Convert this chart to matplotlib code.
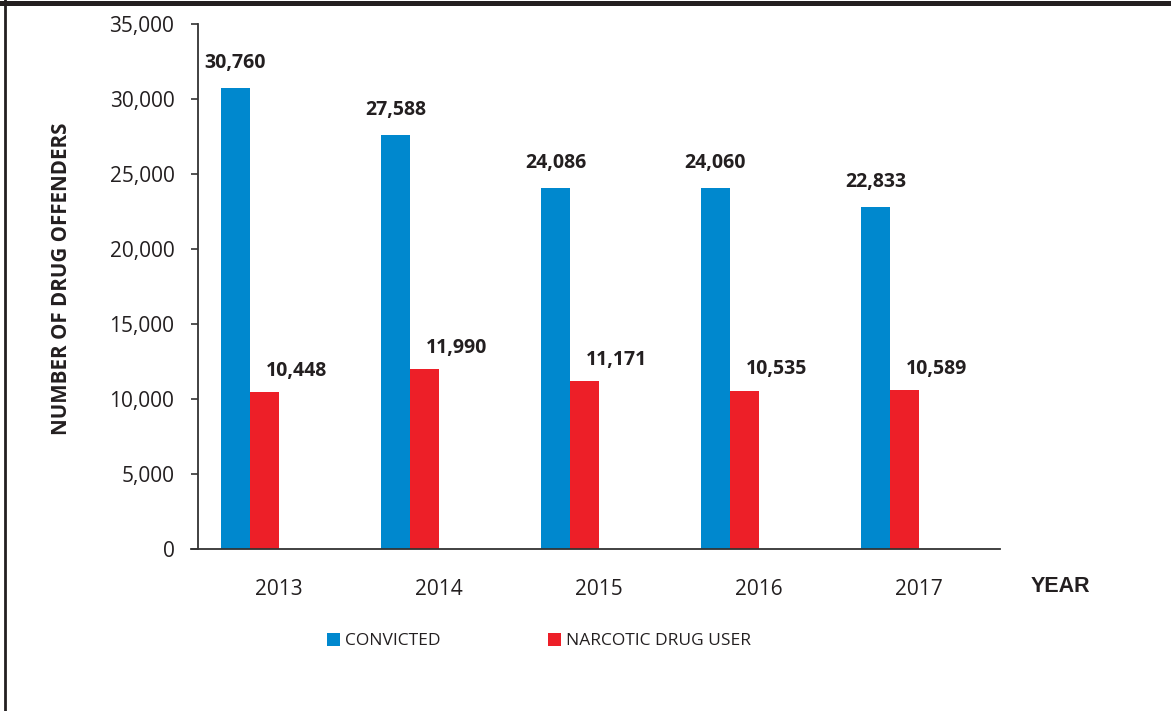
import matplotlib
matplotlib.use('Agg')
import matplotlib.pyplot as plt
from matplotlib.patches import Patch
from matplotlib.lines import Line2D
import numpy as np

years = ['2013', '2014', '2015', '2016', '2017']
convicted = [30760, 27588, 24086, 24060, 22833]
drug_users = [10448, 11990, 11171, 10535, 10589]
series_names = ['CONVICTED', 'NARCOTIC DRUG USER']
yticks = [0, 5000, 10000, 15000, 20000, 25000, 30000, 35000]

blue = '#0088ce'
red = '#ed1f28'
txt = '#231f20'

plt.rcParams['font.family'] = ['Open Sans', 'DejaVu Sans']

fig = plt.figure(figsize=(11.71, 7.11), dpi=100)
ax = fig.add_axes([191/1171, 162/711, (1000-191)/1171, 525/711])

x = np.arange(len(years))
w = 29/160
ax.bar(x - w/2, convicted, width=w, color=blue)
ax.bar(x + w/2, drug_users, width=w, color=red)

for xi, v in zip(x, convicted):
    ax.annotate('{:,}'.format(v), (xi - w/2, v), xytext=(0, 18),
                textcoords='offset points', ha='center', va='center',
                fontsize=14, fontweight='bold', color=txt)
for xi, v in zip(x, drug_users):
    ax.annotate('{:,}'.format(v), (xi + w/2, v), xytext=(23, 15.5),
                textcoords='offset points', ha='center', va='center',
                fontsize=14, fontweight='bold', color=txt)

ax.set_xlim(-0.369, 4.6875)
ax.set_ylim(0, 35000)
ax.set_yticks(yticks)
ax.set_yticklabels(['{:,}'.format(t) for t in yticks])
ax.set_xticks(x + w)
ax.set_xticklabels(years)

ax.spines['top'].set_visible(False)
ax.spines['right'].set_visible(False)
ax.spines['left'].set_position(('data', -0.325))
for s in ['left', 'bottom']:
    ax.spines[s].set_color('#333333')
    ax.spines[s].set_linewidth(1.3)
ax.tick_params(axis='y', direction='out', length=5, width=1.2, color='#333333',
               pad=12, labelsize=15, labelcolor=txt)
ax.tick_params(axis='x', length=0, pad=21.5, labelsize=15, labelcolor=txt)

fig.text(62/1171, 1 - 279/711, 'NUMBER OF DRUG OFFENDERS', rotation=90,
         ha='center', va='center', fontsize=14.8, fontweight='bold', color=txt)
fig.text(1060/1171, 1 - 587/711, 'YEAR', ha='center', va='center',
         fontsize=15.5, fontweight='bold', color=txt, family='Liberation Sans')

handles = [Patch(facecolor=blue), Patch(facecolor=red)]
fig.legend(handles, series_names, loc='center left',
           bbox_to_anchor=(311/1171, 1 - 641/711), ncol=2, frameon=False,
           handlelength=0.75, handleheight=0.75, handletextpad=0.3,
           columnspacing=6.2, prop={'size': 12.5}, labelcolor=txt)

# outer frame lines of the original page
fig.add_artist(Line2D([0, 1], [1 - 2.5/711, 1 - 2.5/711], color='#231f20', linewidth=3.6))
fig.add_artist(Line2D([5.5/1171, 5.5/1171], [0, 1], color='#231f20', linewidth=2))

fig.savefig('out.png', dpi=100)
